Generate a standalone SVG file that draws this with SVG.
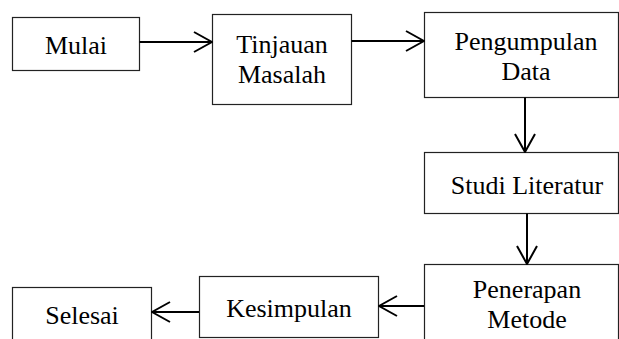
<svg xmlns="http://www.w3.org/2000/svg" width="619" height="339" viewBox="0 0 619 339">
<defs>
<marker id="arr" viewBox="0 0 20 22" refX="19" refY="11" markerWidth="20" markerHeight="22" markerUnits="userSpaceOnUse" orient="auto">
<path d="M1,1 L19,11 L1,21" fill="none" stroke="#000" stroke-width="2"/>
</marker>
<style>
.box{fill:#fff;stroke:#222;stroke-width:1.2}
.t{font-family:'Liberation Serif','Times New Roman',serif;font-size:26px;fill:#000;text-anchor:middle}
.c{stroke:#000;stroke-width:2;fill:none;marker-end:url(#arr)}
</style>
</defs>
<rect width="619" height="339" fill="#fff"/>
<g id="mulai"><rect class="box" x="12.5" y="17.5" width="127" height="53"/><text class="t" x="76" y="54">Mulai</text></g>
<g id="tinjauan"><rect class="box" x="212.5" y="14.5" width="139" height="90"/><text class="t" x="282" y="53">Tinjauan</text><text class="t" x="282" y="83">Masalah</text></g>
<g id="pengumpulan"><rect class="box" x="424.5" y="12.5" width="194" height="85"/><text class="t" x="526" y="50">Pengumpulan</text><text class="t" x="526" y="80">Data</text></g>
<g id="studi"><rect class="box" x="424.5" y="152.5" width="194" height="61"/><text class="t" x="527" y="194">Studi Literatur</text></g>
<g id="penerapan"><rect class="box" x="424.5" y="264.5" width="194" height="80"/><text class="t" x="527" y="298">Penerapan</text><text class="t" x="527" y="328">Metode</text></g>
<g id="kesimpulan"><rect class="box" x="199.5" y="276.5" width="179" height="61"/><text class="t" x="289" y="317">Kesimpulan</text></g>
<g id="selesai"><rect class="box" x="12.5" y="287.5" width="139" height="60"/><text class="t" x="82" y="324">Selesai</text></g>
<g id="connectors">
<line class="c" x1="139.5" y1="42" x2="212" y2="42"/>
<line class="c" x1="351.5" y1="41" x2="424" y2="41"/>
<line class="c" x1="525" y1="97.5" x2="525" y2="152"/>
<line class="c" x1="527" y1="213.5" x2="527" y2="264"/>
<line class="c" x1="424" y1="306" x2="379" y2="306"/>
<line class="c" x1="199" y1="312" x2="152" y2="312"/>
</g>
</svg>
